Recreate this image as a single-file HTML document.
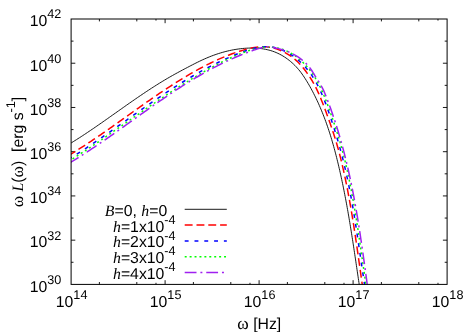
<!DOCTYPE html>
<html><head><meta charset="utf-8"><title>plot</title>
<style>html,body{margin:0;padding:0;background:#fff}svg{display:block;will-change:transform}text{font-family:"Liberation Sans",sans-serif;fill:#000;text-rendering:geometricPrecision}.it{font-family:"Liberation Serif",serif;font-style:italic}.sy{font-family:"Liberation Serif",serif;font-size:17.4px}</style></head>
<body>
<svg width="474" height="332" viewBox="0 0 474 332">
<rect x="0" y="0" width="474" height="332" fill="#fff"/>
<defs><clipPath id="c"><rect x="71.1" y="19.0" width="376.0" height="265.4"/></clipPath></defs>
<path d="M99.40,284.4 v-2.4 M99.40,19.0 v2.4 M136.80,284.4 v-2.4 M136.80,19.0 v2.4 M155.99,284.4 v-1.6 M155.99,19.0 v1.6 M165.10,284.4 v-4.2 M165.10,19.0 v4.2 M193.40,284.4 v-2.4 M193.40,19.0 v2.4 M230.80,284.4 v-2.4 M230.80,19.0 v2.4 M249.99,284.4 v-1.6 M249.99,19.0 v1.6 M259.10,284.4 v-4.2 M259.10,19.0 v4.2 M287.40,284.4 v-2.4 M287.40,19.0 v2.4 M324.80,284.4 v-2.4 M324.80,19.0 v2.4 M343.99,284.4 v-1.6 M343.99,19.0 v1.6 M353.10,284.4 v-4.2 M353.10,19.0 v4.2 M381.40,284.4 v-2.4 M381.40,19.0 v2.4 M418.80,284.4 v-2.4 M418.80,19.0 v2.4 M437.99,284.4 v-1.6 M437.99,19.0 v1.6 M71.1,41.12 h2.4 M447.1,41.12 h-2.4 M71.1,63.23 h4.2 M447.1,63.23 h-4.2 M71.1,85.35 h2.4 M447.1,85.35 h-2.4 M71.1,107.47 h4.2 M447.1,107.47 h-4.2 M71.1,129.58 h2.4 M447.1,129.58 h-2.4 M71.1,151.70 h4.2 M447.1,151.70 h-4.2 M71.1,173.82 h2.4 M447.1,173.82 h-2.4 M71.1,195.93 h4.2 M447.1,195.93 h-4.2 M71.1,218.05 h2.4 M447.1,218.05 h-2.4 M71.1,240.17 h4.2 M447.1,240.17 h-4.2 M71.1,262.28 h2.4 M447.1,262.28 h-2.4" stroke="#000" stroke-width="0.9" fill="none"/>
<g clip-path="url(#c)" fill="none">
<path d="M68.52,144.54 L70.12,143.58 L71.71,142.61 L73.29,141.63 L74.87,140.64 L76.46,139.65 L78.03,138.64 L79.61,137.63 L81.19,136.61 L82.76,135.59 L84.33,134.56 L85.90,133.52 L87.46,132.47 L89.03,131.42 L90.59,130.37 L92.16,129.31 L93.72,128.25 L95.28,127.18 L96.84,126.10 L98.39,125.03 L99.95,123.94 L101.51,122.86 L103.06,121.77 L104.62,120.68 L106.17,119.59 L107.73,118.50 L109.28,117.40 L110.84,116.30 L112.39,115.20 L113.95,114.10 L115.50,113.00 L117.06,111.90 L118.61,110.80 L120.17,109.70 L121.72,108.60 L123.28,107.50 L124.84,106.41 L126.40,105.31 L127.96,104.21 L129.52,103.12 L131.08,102.03 L132.65,100.94 L134.21,99.86 L135.78,98.78 L137.35,97.70 L138.92,96.62 L140.50,95.55 L142.07,94.49 L143.65,93.43 L145.23,92.37 L146.81,91.32 L148.40,90.27 L149.98,89.24 L151.57,88.20 L153.17,87.18 L154.76,86.16 L156.36,85.14 L157.96,84.14 L159.57,83.14 L161.18,82.15 L162.79,81.17 L164.41,80.19 L166.02,79.23 L167.65,78.28 L169.28,77.33 L170.91,76.39 L172.54,75.47 L174.18,74.55 L175.83,73.64 L177.47,72.74 L179.13,71.84 L180.79,70.95 L182.45,70.06 L184.12,69.17 L185.79,68.29 L187.47,67.41 L189.15,66.52 L190.84,65.64 L192.53,64.77 L194.23,63.90 L195.93,63.04 L197.64,62.19 L199.36,61.35 L201.08,60.53 L202.81,59.73 L204.55,58.94 L206.29,58.18 L208.03,57.44 L209.79,56.72 L211.55,56.03 L213.32,55.37 L215.09,54.73 L216.87,54.11 L218.66,53.53 L220.46,52.97 L222.26,52.44 L224.07,51.93 L225.89,51.46 L227.71,51.01 L229.54,50.59 L231.38,50.20 L233.23,49.84 L235.09,49.51 L236.95,49.22 L238.83,48.95 L240.71,48.71 L242.60,48.51 L244.49,48.34 L246.39,48.21 L248.30,48.11 L250.20,48.06 L252.11,48.04 L254.01,48.07 L255.91,48.14 L257.81,48.27 L259.70,48.44 L261.58,48.66 L263.45,48.94 L265.31,49.27 L267.15,49.66 L268.98,50.10 L270.80,50.61 L272.59,51.19 L274.36,51.82 L276.12,52.53 L277.85,53.30 L279.55,54.13 L281.23,55.02 L282.88,55.98 L284.49,56.99 L286.08,58.05 L287.63,59.16 L289.15,60.33 L290.63,61.53 L292.07,62.78 L293.47,64.07 L294.83,65.40 L296.15,66.76 L297.42,68.16 L298.65,69.58 L299.83,71.03 L300.97,72.51 L302.07,74.02 L303.14,75.55 L304.18,77.10 L305.20,78.67 L306.20,80.26 L307.19,81.87 L308.16,83.50 L309.11,85.14 L310.05,86.80 L310.98,88.47 L311.89,90.15 L312.79,91.84 L313.67,93.54 L314.53,95.24 L315.38,96.95 L316.21,98.67 L317.03,100.39 L317.83,102.12 L318.62,103.85 L319.39,105.59 L320.15,107.33 L320.89,109.07 L321.62,110.82 L322.34,112.58 L323.04,114.34 L323.73,116.10 L324.41,117.87 L325.07,119.64 L325.72,121.41 L326.36,123.19 L326.99,124.97 L327.61,126.75 L328.21,128.54 L328.81,130.33 L329.39,132.13 L329.97,133.93 L330.53,135.73 L331.09,137.53 L331.63,139.34 L332.17,141.15 L332.69,142.97 L333.21,144.78 L333.72,146.60 L334.22,148.42 L334.71,150.24 L335.20,152.07 L335.68,153.90 L336.15,155.73 L336.61,157.56 L337.07,159.39 L337.52,161.23 L337.97,163.06 L338.41,164.90 L338.84,166.74 L339.27,168.59 L339.70,170.43 L340.12,172.27 L340.53,174.12 L340.94,175.97 L341.34,177.82 L341.74,179.67 L342.13,181.52 L342.52,183.37 L342.91,185.23 L343.29,187.08 L343.66,188.94 L344.03,190.80 L344.40,192.66 L344.76,194.52 L345.12,196.38 L345.48,198.24 L345.83,200.10 L346.18,201.96 L346.52,203.83 L346.86,205.69 L347.20,207.56 L347.53,209.43 L347.86,211.29 L348.19,213.16 L348.51,215.03 L348.83,216.90 L349.15,218.77 L349.46,220.64 L349.77,222.51 L350.08,224.38 L350.39,226.25 L350.70,228.12 L351.00,230.00 L351.30,231.87 L351.60,233.74 L351.89,235.61 L352.19,237.49 L352.48,239.36 L352.77,241.23 L353.06,243.11 L353.35,244.98 L353.63,246.85 L353.92,248.73 L354.20,250.60 L354.48,252.47 L354.76,254.35 L355.04,256.22 L355.32,258.09 L355.60,259.96 L355.88,261.84 L356.15,263.71 L356.43,265.58 L356.70,267.45 L356.98,269.32 L357.25,271.19 L357.53,273.06 L357.80,274.93 L358.08,276.80 L358.35,278.66 L358.63,280.53 L358.91,282.40 L359.18,284.26 L359.46,286.13" stroke="#000" stroke-width="0.9"/>
<path d="M68.41,155.56 L70.07,154.56 L71.73,153.56 L73.39,152.55 L75.04,151.53 L76.69,150.50 L78.33,149.47 L79.97,148.44 L81.60,147.39 L83.23,146.35 L84.86,145.29 L86.48,144.24 L88.10,143.17 L89.71,142.11 L91.33,141.04 L92.93,139.96 L94.54,138.88 L96.14,137.80 L97.74,136.71 L99.34,135.62 L100.93,134.53 L102.52,133.43 L104.11,132.33 L105.70,131.23 L107.29,130.12 L108.87,129.02 L110.45,127.91 L112.03,126.80 L113.61,125.68 L115.19,124.57 L116.77,123.45 L118.34,122.33 L119.91,121.22 L121.49,120.10 L123.06,118.98 L124.63,117.86 L126.20,116.74 L127.78,115.62 L129.35,114.50 L130.92,113.38 L132.49,112.26 L134.06,111.14 L135.63,110.02 L137.21,108.90 L138.78,107.79 L140.36,106.68 L141.93,105.56 L143.51,104.45 L145.08,103.34 L146.66,102.24 L148.24,101.14 L149.83,100.03 L151.41,98.94 L152.99,97.84 L154.58,96.75 L156.17,95.66 L157.76,94.58 L159.36,93.49 L160.96,92.42 L162.56,91.34 L164.16,90.28 L165.76,89.21 L167.37,88.15 L168.98,87.10 L170.60,86.05 L172.22,85.00 L173.84,83.97 L175.47,82.93 L177.10,81.91 L178.73,80.88 L180.37,79.87 L182.01,78.86 L183.66,77.86 L185.31,76.86 L186.97,75.88 L188.63,74.90 L190.29,73.92 L191.96,72.96 L193.64,72.00 L195.32,71.05 L197.01,70.11 L198.70,69.18 L200.40,68.26 L202.11,67.35 L203.82,66.45 L205.54,65.56 L207.26,64.68 L208.99,63.82 L210.73,62.96 L212.47,62.12 L214.22,61.30 L215.98,60.48 L217.74,59.68 L219.51,58.89 L221.29,58.12 L223.08,57.36 L224.87,56.62 L226.67,55.90 L228.48,55.19 L230.30,54.49 L232.13,53.81 L233.96,53.16 L235.80,52.51 L237.66,51.89 L239.52,51.28 L241.39,50.70 L243.26,50.13 L245.15,49.59 L247.04,49.09 L248.94,48.61 L250.83,48.18 L252.74,47.80 L254.64,47.47 L256.54,47.19 L258.44,46.97 L260.34,46.82 L262.23,46.75 L264.12,46.74 L266.00,46.82 L267.87,46.99 L269.74,47.24 L271.59,47.58 L273.43,48.00 L275.26,48.50 L277.07,49.08 L278.87,49.73 L280.65,50.45 L282.42,51.25 L284.16,52.11 L285.88,53.04 L287.58,54.03 L289.25,55.09 L290.88,56.20 L292.47,57.37 L294.02,58.58 L295.53,59.85 L296.98,61.16 L298.38,62.51 L299.72,63.89 L301.01,65.32 L302.26,66.77 L303.48,68.25 L304.66,69.76 L305.82,71.28 L306.96,72.84 L308.07,74.41 L309.15,76.00 L310.20,77.61 L311.22,79.24 L312.22,80.88 L313.19,82.55 L314.13,84.23 L315.04,85.92 L315.92,87.63 L316.76,89.35 L317.58,91.09 L318.38,92.83 L319.15,94.59 L319.91,96.36 L320.65,98.14 L321.38,99.92 L322.10,101.72 L322.82,103.52 L323.52,105.32 L324.21,107.13 L324.90,108.95 L325.57,110.77 L326.25,112.59 L326.92,114.42 L327.58,116.24 L328.24,118.07 L328.90,119.90 L329.55,121.73 L330.19,123.56 L330.83,125.39 L331.46,127.23 L332.08,129.07 L332.69,130.90 L333.30,132.74 L333.90,134.59 L334.49,136.43 L335.07,138.27 L335.64,140.12 L336.20,141.97 L336.74,143.82 L337.28,145.67 L337.81,147.53 L338.32,149.38 L338.83,151.24 L339.32,153.10 L339.80,154.96 L340.28,156.83 L340.74,158.69 L341.20,160.56 L341.65,162.43 L342.09,164.30 L342.53,166.18 L342.96,168.05 L343.39,169.93 L343.80,171.81 L344.22,173.69 L344.63,175.57 L345.03,177.46 L345.43,179.35 L345.82,181.23 L346.21,183.12 L346.59,185.02 L346.96,186.91 L347.34,188.80 L347.70,190.70 L348.07,192.60 L348.42,194.49 L348.78,196.39 L349.13,198.29 L349.47,200.20 L349.81,202.10 L350.15,204.00 L350.49,205.91 L350.82,207.81 L351.14,209.72 L351.46,211.63 L351.78,213.54 L352.10,215.45 L352.41,217.36 L352.72,219.27 L353.03,221.18 L353.33,223.09 L353.63,225.00 L353.93,226.91 L354.23,228.83 L354.52,230.74 L354.81,232.65 L355.10,234.56 L355.39,236.48 L355.67,238.39 L355.96,240.31 L356.24,242.22 L356.52,244.13 L356.80,246.05 L357.07,247.96 L357.35,249.87 L357.62,251.79 L357.90,253.70 L358.17,255.61 L358.44,257.53 L358.71,259.44 L358.98,261.35 L359.25,263.26 L359.52,265.17 L359.79,267.08 L360.06,268.99 L360.33,270.90 L360.59,272.80 L360.86,274.71 L361.13,276.61 L361.40,278.52 L361.67,280.42 L361.94,282.33 L362.21,284.23 L362.48,286.13" stroke="#ff0000" stroke-width="1.5" stroke-dasharray="7.9 3.9"/>
<path d="M68.40,159.33 L70.07,158.31 L71.74,157.27 L73.41,156.24 L75.07,155.19 L76.72,154.15 L78.37,153.09 L80.02,152.04 L81.67,150.98 L83.31,149.91 L84.94,148.84 L86.58,147.76 L88.21,146.69 L89.83,145.60 L91.46,144.52 L93.08,143.43 L94.69,142.34 L96.31,141.24 L97.92,140.15 L99.53,139.04 L101.14,137.94 L102.74,136.84 L104.34,135.73 L105.94,134.62 L107.54,133.51 L109.14,132.39 L110.74,131.28 L112.33,130.16 L113.92,129.04 L115.51,127.92 L117.10,126.80 L118.69,125.68 L120.28,124.56 L121.87,123.44 L123.45,122.31 L125.04,121.19 L126.63,120.07 L128.21,118.94 L129.80,117.82 L131.38,116.70 L132.97,115.58 L134.55,114.46 L136.14,113.34 L137.72,112.22 L139.31,111.10 L140.90,109.99 L142.49,108.87 L144.08,107.76 L145.67,106.65 L147.26,105.54 L148.85,104.44 L150.44,103.33 L152.04,102.23 L153.64,101.13 L155.24,100.04 L156.84,98.95 L158.44,97.86 L160.05,96.77 L161.65,95.69 L163.26,94.61 L164.88,93.53 L166.49,92.46 L168.11,91.40 L169.73,90.34 L171.35,89.28 L172.98,88.22 L174.61,87.18 L176.25,86.13 L177.88,85.09 L179.52,84.06 L181.17,83.03 L182.82,82.01 L184.47,81.00 L186.13,79.99 L187.79,78.98 L189.45,77.99 L191.12,77.00 L192.80,76.01 L194.48,75.03 L196.16,74.06 L197.85,73.10 L199.55,72.15 L201.25,71.20 L202.95,70.26 L204.66,69.33 L206.38,68.41 L208.10,67.49 L209.83,66.59 L211.56,65.70 L213.30,64.81 L215.05,63.93 L216.80,63.07 L218.56,62.21 L220.33,61.37 L222.10,60.54 L223.88,59.71 L225.66,58.90 L227.46,58.10 L229.26,57.31 L231.06,56.54 L232.88,55.77 L234.70,55.02 L236.53,54.28 L238.37,53.55 L240.22,52.84 L242.07,52.14 L243.94,51.46 L245.80,50.80 L247.68,50.17 L249.56,49.58 L251.44,49.02 L253.33,48.52 L255.22,48.06 L257.12,47.66 L259.01,47.33 L260.91,47.06 L262.80,46.88 L264.70,46.77 L266.59,46.74 L268.48,46.81 L270.37,46.98 L272.25,47.23 L274.12,47.58 L275.98,48.01 L277.82,48.51 L279.65,49.09 L281.47,49.75 L283.26,50.48 L285.02,51.29 L286.76,52.16 L288.47,53.09 L290.16,54.09 L291.81,55.14 L293.43,56.25 L295.02,57.42 L296.57,58.63 L298.09,59.89 L299.57,61.19 L301.01,62.53 L302.41,63.90 L303.77,65.31 L305.09,66.75 L306.37,68.22 L307.60,69.71 L308.79,71.24 L309.95,72.78 L311.07,74.36 L312.16,75.95 L313.21,77.57 L314.22,79.22 L315.21,80.88 L316.17,82.56 L317.09,84.26 L317.99,85.97 L318.87,87.71 L319.71,89.46 L320.54,91.22 L321.34,92.99 L322.12,94.78 L322.88,96.58 L323.63,98.39 L324.35,100.21 L325.06,102.03 L325.76,103.87 L326.44,105.70 L327.11,107.55 L327.77,109.39 L328.42,111.24 L329.06,113.10 L329.70,114.95 L330.33,116.80 L330.95,118.65 L331.57,120.51 L332.18,122.36 L332.78,124.21 L333.38,126.07 L333.97,127.92 L334.56,129.78 L335.13,131.64 L335.71,133.50 L336.27,135.36 L336.83,137.22 L337.38,139.08 L337.93,140.94 L338.46,142.81 L338.99,144.67 L339.52,146.54 L340.04,148.41 L340.55,150.28 L341.05,152.15 L341.55,154.02 L342.04,155.90 L342.52,157.78 L342.99,159.66 L343.46,161.54 L343.92,163.42 L344.38,165.31 L344.82,167.20 L345.26,169.09 L345.69,170.98 L346.12,172.87 L346.54,174.77 L346.95,176.67 L347.36,178.57 L347.76,180.47 L348.16,182.37 L348.55,184.28 L348.93,186.18 L349.31,188.09 L349.68,190.00 L350.05,191.91 L350.41,193.82 L350.77,195.74 L351.12,197.65 L351.47,199.57 L351.81,201.49 L352.15,203.40 L352.49,205.32 L352.82,207.24 L353.15,209.17 L353.47,211.09 L353.79,213.01 L354.11,214.93 L354.42,216.86 L354.73,218.78 L355.04,220.71 L355.35,222.63 L355.65,224.56 L355.95,226.49 L356.25,228.42 L356.54,230.34 L356.83,232.27 L357.13,234.20 L357.42,236.13 L357.70,238.05 L357.99,239.98 L358.27,241.91 L358.56,243.84 L358.84,245.77 L359.12,247.69 L359.41,249.62 L359.69,251.55 L359.97,253.47 L360.25,255.40 L360.53,257.33 L360.81,259.25 L361.09,261.17 L361.37,263.10 L361.65,265.02 L361.93,266.94 L362.22,268.86 L362.50,270.78 L362.78,272.70 L363.07,274.62 L363.36,276.54 L363.65,278.45 L363.94,280.37 L364.23,282.28 L364.52,284.19 L364.82,286.11" stroke="#0000ff" stroke-width="1.5" stroke-dasharray="3.9 5.9"/>
<path d="M68.40,161.53 L70.08,160.47 L71.76,159.41 L73.43,158.34 L75.10,157.27 L76.77,156.20 L78.43,155.13 L80.09,154.05 L81.74,152.97 L83.39,151.88 L85.04,150.80 L86.68,149.71 L88.32,148.62 L89.96,147.53 L91.59,146.43 L93.22,145.34 L94.85,144.24 L96.47,143.14 L98.10,142.04 L99.72,140.94 L101.33,139.83 L102.95,138.72 L104.56,137.62 L106.18,136.51 L107.79,135.40 L109.39,134.29 L111.00,133.18 L112.61,132.07 L114.21,130.96 L115.81,129.84 L117.41,128.73 L119.01,127.62 L120.61,126.50 L122.21,125.39 L123.81,124.28 L125.40,123.16 L127.00,122.05 L128.60,120.94 L130.19,119.82 L131.79,118.71 L133.39,117.60 L134.98,116.49 L136.58,115.38 L138.17,114.27 L139.77,113.16 L141.37,112.06 L142.97,110.95 L144.56,109.85 L146.16,108.74 L147.77,107.64 L149.37,106.54 L150.97,105.44 L152.57,104.35 L154.18,103.25 L155.79,102.16 L157.40,101.07 L159.01,99.98 L160.62,98.90 L162.24,97.81 L163.85,96.73 L165.47,95.65 L167.09,94.58 L168.72,93.51 L170.35,92.44 L171.98,91.37 L173.61,90.31 L175.24,89.25 L176.88,88.19 L178.52,87.14 L180.17,86.09 L181.82,85.04 L183.47,84.00 L185.12,82.96 L186.78,81.93 L188.45,80.90 L190.11,79.87 L191.79,78.85 L193.46,77.83 L195.14,76.82 L196.83,75.82 L198.51,74.82 L200.21,73.82 L201.91,72.84 L203.61,71.86 L205.32,70.89 L207.03,69.92 L208.75,68.97 L210.47,68.02 L212.20,67.08 L213.94,66.16 L215.68,65.24 L217.43,64.33 L219.18,63.43 L220.94,62.55 L222.70,61.67 L224.47,60.81 L226.25,59.96 L228.04,59.12 L229.83,58.29 L231.62,57.48 L233.43,56.68 L235.24,55.89 L237.06,55.12 L238.88,54.37 L240.72,53.62 L242.56,52.90 L244.40,52.20 L246.26,51.52 L248.12,50.87 L249.98,50.25 L251.86,49.67 L253.73,49.14 L255.61,48.65 L257.50,48.22 L259.39,47.84 L261.28,47.53 L263.18,47.28 L265.08,47.11 L266.99,47.01 L268.89,46.99 L270.80,47.05 L272.70,47.20 L274.60,47.44 L276.50,47.76 L278.38,48.16 L280.25,48.65 L282.10,49.22 L283.93,49.87 L285.73,50.60 L287.51,51.42 L289.26,52.30 L290.99,53.26 L292.68,54.28 L294.34,55.36 L295.96,56.50 L297.55,57.69 L299.09,58.94 L300.60,60.23 L302.07,61.56 L303.49,62.92 L304.87,64.33 L306.20,65.76 L307.49,67.22 L308.73,68.72 L309.94,70.24 L311.10,71.79 L312.23,73.36 L313.32,74.96 L314.37,76.58 L315.39,78.23 L316.38,79.90 L317.34,81.58 L318.27,83.29 L319.17,85.02 L320.05,86.76 L320.89,88.52 L321.72,90.29 L322.52,92.07 L323.31,93.87 L324.07,95.68 L324.82,97.51 L325.54,99.34 L326.26,101.17 L326.96,103.02 L327.65,104.87 L328.33,106.73 L328.99,108.59 L329.65,110.45 L330.31,112.31 L330.96,114.18 L331.60,116.04 L332.24,117.90 L332.88,119.77 L333.51,121.63 L334.14,123.49 L334.76,125.35 L335.37,127.22 L335.98,129.08 L336.58,130.94 L337.17,132.81 L337.76,134.67 L338.34,136.54 L338.91,138.41 L339.47,140.27 L340.02,142.14 L340.56,144.01 L341.09,145.89 L341.61,147.76 L342.12,149.63 L342.62,151.51 L343.12,153.39 L343.60,155.27 L344.07,157.15 L344.54,159.04 L345.00,160.92 L345.45,162.81 L345.90,164.70 L346.33,166.60 L346.77,168.49 L347.19,170.39 L347.61,172.30 L348.03,174.20 L348.43,176.11 L348.84,178.01 L349.23,179.92 L349.62,181.84 L350.01,183.75 L350.39,185.67 L350.77,187.58 L351.14,189.50 L351.50,191.42 L351.86,193.35 L352.22,195.27 L352.57,197.20 L352.92,199.12 L353.27,201.05 L353.60,202.98 L353.94,204.91 L354.27,206.84 L354.60,208.78 L354.93,210.71 L355.25,212.64 L355.57,214.58 L355.88,216.51 L356.19,218.45 L356.50,220.39 L356.81,222.33 L357.11,224.26 L357.41,226.20 L357.71,228.14 L358.01,230.08 L358.30,232.02 L358.60,233.96 L358.89,235.90 L359.18,237.84 L359.46,239.78 L359.75,241.71 L360.03,243.65 L360.32,245.59 L360.60,247.53 L360.88,249.47 L361.16,251.40 L361.44,253.34 L361.72,255.28 L362.00,257.21 L362.28,259.14 L362.55,261.08 L362.83,263.01 L363.11,264.94 L363.39,266.87 L363.67,268.80 L363.94,270.73 L364.22,272.65 L364.50,274.58 L364.78,276.50 L365.07,278.42 L365.35,280.34 L365.63,282.26 L365.92,284.18 L366.21,286.09" stroke="#00ff00" stroke-width="1.5" stroke-dasharray="1.97 2.95"/>
<path d="M68.44,163.63 L70.12,162.63 L71.79,161.62 L73.46,160.60 L75.12,159.57 L76.78,158.54 L78.44,157.50 L80.10,156.46 L81.75,155.41 L83.39,154.35 L85.04,153.29 L86.68,152.22 L88.32,151.14 L89.95,150.07 L91.59,148.98 L93.22,147.89 L94.85,146.80 L96.47,145.70 L98.10,144.60 L99.72,143.49 L101.34,142.38 L102.96,141.27 L104.57,140.15 L106.19,139.03 L107.80,137.91 L109.41,136.78 L111.02,135.66 L112.63,134.52 L114.24,133.39 L115.84,132.26 L117.45,131.12 L119.05,129.98 L120.65,128.84 L122.26,127.70 L123.86,126.55 L125.46,125.41 L127.06,124.26 L128.67,123.12 L130.27,121.97 L131.87,120.82 L133.47,119.68 L135.07,118.53 L136.67,117.39 L138.27,116.24 L139.88,115.10 L141.48,113.95 L143.08,112.81 L144.69,111.67 L146.30,110.53 L147.90,109.39 L149.51,108.25 L151.12,107.12 L152.73,105.99 L154.34,104.86 L155.95,103.73 L157.57,102.61 L159.19,101.49 L160.81,100.37 L162.43,99.26 L164.05,98.15 L165.67,97.04 L167.30,95.94 L168.93,94.84 L170.56,93.74 L172.20,92.65 L173.83,91.57 L175.47,90.49 L177.12,89.41 L178.76,88.34 L180.41,87.28 L182.06,86.22 L183.72,85.17 L185.38,84.12 L187.04,83.08 L188.71,82.05 L190.38,81.02 L192.05,80.00 L193.73,78.99 L195.41,77.98 L197.10,76.99 L198.79,75.99 L200.48,75.01 L202.18,74.04 L203.88,73.07 L205.59,72.11 L207.31,71.16 L209.02,70.22 L210.75,69.29 L212.47,68.37 L214.21,67.46 L215.95,66.55 L217.69,65.66 L219.44,64.78 L221.19,63.90 L222.96,63.04 L224.72,62.19 L226.49,61.35 L228.27,60.52 L230.06,59.70 L231.85,58.89 L233.65,58.09 L235.45,57.31 L237.26,56.54 L239.08,55.77 L240.90,55.03 L242.73,54.29 L244.57,53.57 L246.41,52.86 L248.27,52.16 L250.13,51.48 L251.99,50.81 L253.87,50.16 L255.75,49.51 L257.64,48.89 L259.53,48.28 L261.44,47.72 L263.35,47.25 L265.26,46.91 L267.17,46.72 L269.08,46.74 L270.99,46.93 L272.90,47.27 L274.81,47.69 L276.70,48.15 L278.60,48.63 L280.48,49.14 L282.35,49.69 L284.21,50.29 L286.05,50.93 L287.88,51.62 L289.69,52.38 L291.49,53.20 L293.26,54.09 L295.01,55.06 L296.73,56.10 L298.41,57.20 L300.06,58.36 L301.65,59.58 L303.20,60.85 L304.68,62.18 L306.10,63.55 L307.45,64.97 L308.73,66.43 L309.92,67.92 L311.03,69.44 L312.07,71.00 L313.06,72.58 L314.04,74.19 L315.02,75.83 L316.04,77.49 L317.11,79.17 L318.19,80.87 L319.27,82.59 L320.33,84.33 L321.35,86.08 L322.32,87.85 L323.21,89.63 L324.03,91.41 L324.80,93.21 L325.53,95.02 L326.24,96.83 L326.95,98.64 L327.64,100.46 L328.33,102.29 L329.01,104.11 L329.68,105.95 L330.35,107.78 L331.00,109.62 L331.65,111.46 L332.29,113.31 L332.93,115.16 L333.55,117.01 L334.17,118.87 L334.79,120.73 L335.39,122.60 L335.99,124.46 L336.58,126.33 L337.17,128.21 L337.74,130.08 L338.31,131.96 L338.87,133.84 L339.43,135.72 L339.98,137.61 L340.52,139.50 L341.06,141.39 L341.58,143.28 L342.11,145.18 L342.62,147.08 L343.13,148.97 L343.63,150.88 L344.13,152.78 L344.62,154.68 L345.10,156.59 L345.57,158.50 L346.04,160.41 L346.51,162.32 L346.96,164.23 L347.41,166.14 L347.86,168.05 L348.30,169.97 L348.73,171.89 L349.16,173.80 L349.58,175.72 L349.99,177.64 L350.40,179.56 L350.81,181.48 L351.21,183.40 L351.60,185.33 L351.99,187.25 L352.37,189.18 L352.75,191.10 L353.12,193.03 L353.49,194.96 L353.86,196.89 L354.22,198.82 L354.58,200.75 L354.93,202.68 L355.27,204.61 L355.62,206.54 L355.96,208.48 L356.29,210.41 L356.62,212.35 L356.95,214.28 L357.28,216.22 L357.60,218.15 L357.92,220.09 L358.23,222.03 L358.54,223.97 L358.85,225.91 L359.16,227.85 L359.46,229.79 L359.76,231.73 L360.06,233.67 L360.35,235.61 L360.64,237.55 L360.93,239.49 L361.22,241.44 L361.51,243.38 L361.79,245.32 L362.07,247.27 L362.35,249.21 L362.63,251.16 L362.91,253.10 L363.19,255.04 L363.46,256.99 L363.73,258.94 L364.00,260.88 L364.28,262.83 L364.54,264.77 L364.81,266.72 L365.08,268.66 L365.35,270.61 L365.62,272.56 L365.88,274.50 L366.15,276.45 L366.41,278.39 L366.68,280.34 L366.95,282.29 L367.21,284.23 L367.48,286.18" stroke="#a020f0" stroke-width="1.5" stroke-dasharray="11.8 3.9 1.97 3.9"/>
</g>
<rect x="71.1" y="19.0" width="376.0" height="265.4" fill="none" stroke="#000" stroke-width="1.0"/>
<text x="71.60" y="306.6" text-anchor="middle" font-size="15.8">10<tspan dy="-7.9" font-size="12.64">14</tspan></text>
<text x="165.60" y="306.6" text-anchor="middle" font-size="15.8">10<tspan dy="-7.9" font-size="12.64">15</tspan></text>
<text x="259.60" y="306.6" text-anchor="middle" font-size="15.8">10<tspan dy="-7.9" font-size="12.64">16</tspan></text>
<text x="353.60" y="306.6" text-anchor="middle" font-size="15.8">10<tspan dy="-7.9" font-size="12.64">17</tspan></text>
<text x="447.60" y="306.6" text-anchor="middle" font-size="15.8">10<tspan dy="-7.9" font-size="12.64">18</tspan></text>
<text x="61.3" y="26.30" text-anchor="end" font-size="15.8">10<tspan dy="-7.9" font-size="12.64">42</tspan></text>
<text x="61.3" y="70.53" text-anchor="end" font-size="15.8">10<tspan dy="-7.9" font-size="12.64">40</tspan></text>
<text x="61.3" y="114.77" text-anchor="end" font-size="15.8">10<tspan dy="-7.9" font-size="12.64">38</tspan></text>
<text x="61.3" y="159.00" text-anchor="end" font-size="15.8">10<tspan dy="-7.9" font-size="12.64">36</tspan></text>
<text x="61.3" y="203.23" text-anchor="end" font-size="15.8">10<tspan dy="-7.9" font-size="12.64">34</tspan></text>
<text x="61.3" y="247.47" text-anchor="end" font-size="15.8">10<tspan dy="-7.9" font-size="12.64">32</tspan></text>
<text x="61.3" y="291.70" text-anchor="end" font-size="15.8">10<tspan dy="-7.9" font-size="12.64">30</tspan></text>
<text x="259.3" y="328.6" text-anchor="middle" font-size="15.8"><tspan class="sy">ω</tspan> [Hz]</text>
<text transform="translate(22.8,152.1) rotate(-90)" text-anchor="middle" font-size="15.8" xml:space="preserve"><tspan class="sy">ω</tspan> <tspan class="it">L</tspan>(<tspan class="sy">ω</tspan>)  [erg s<tspan dy="-7.9" font-size="12.64">-1</tspan><tspan dy="7.9">]</tspan></text>
<text x="167.2" y="215.80" text-anchor="end" font-size="15.8"><tspan class="it">B</tspan>=0, <tspan class="it">h</tspan>=0</text>
<path d="M184.7,209.3 H226.8" stroke="#000" stroke-width="0.9" fill="none"/>
<text x="175.6" y="231.60" text-anchor="end" font-size="15.8"><tspan class="it">h</tspan>=1x10<tspan dy="-7.9" font-size="12.64">-4</tspan></text>
<path d="M184.7,225.1 H226.8" stroke="#ff0000" stroke-width="1.5" stroke-dasharray="7.9 3.9" fill="none"/>
<text x="175.6" y="247.40" text-anchor="end" font-size="15.8"><tspan class="it">h</tspan>=2x10<tspan dy="-7.9" font-size="12.64">-4</tspan></text>
<path d="M184.7,240.9 H226.8" stroke="#0000ff" stroke-width="1.5" stroke-dasharray="3.9 5.9" fill="none"/>
<text x="175.6" y="263.20" text-anchor="end" font-size="15.8"><tspan class="it">h</tspan>=3x10<tspan dy="-7.9" font-size="12.64">-4</tspan></text>
<path d="M184.7,256.7 H226.8" stroke="#00ff00" stroke-width="1.5" stroke-dasharray="1.97 2.95" fill="none"/>
<text x="175.6" y="279.00" text-anchor="end" font-size="15.8"><tspan class="it">h</tspan>=4x10<tspan dy="-7.9" font-size="12.64">-4</tspan></text>
<path d="M184.7,272.5 H226.8" stroke="#a020f0" stroke-width="1.5" stroke-dasharray="11.8 3.9 1.97 3.9" fill="none"/>
</svg></body></html>
